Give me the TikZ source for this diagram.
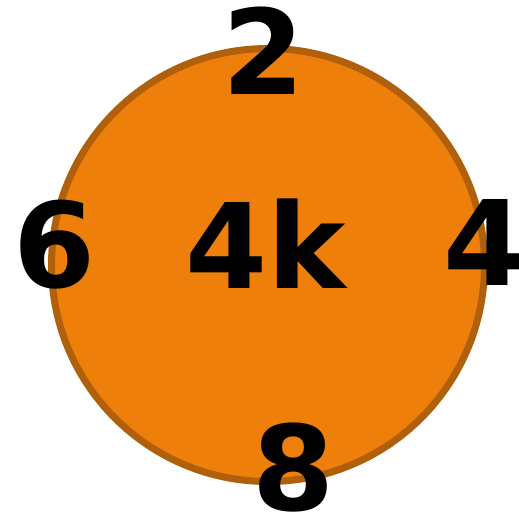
\documentclass[tikz,border=0pt]{standalone}
\usepackage{fontspec}
\setmainfont{DejaVu Sans}
\definecolor{fillor}{HTML}{EF7F0B}
\definecolor{edgeor}{HTML}{B05F0A}
\begin{document}
\begin{tikzpicture}[x=1pt,y=-1pt,
  lbl/.style={font=\fontsize{118}{118}\selectfont\bfseries, inner sep=0pt, anchor=base}]
\useasboundingbox (0,0) rectangle (519,512);
\node[circle, draw=edgeor, fill=fillor, line width=7pt, minimum size=433pt, inner sep=0pt] (c) at (268,265) {};
\node[lbl] (center) at (265.5,288) {4k};
\node[lbl] (top) at (264,94) {2};
\node[lbl] (left) at (54.5,287) {6};
\node[lbl] (right) at (484.5,285) {4};
\node[lbl] (bottom) at (294,510) {8};
\end{tikzpicture}
\end{document}
